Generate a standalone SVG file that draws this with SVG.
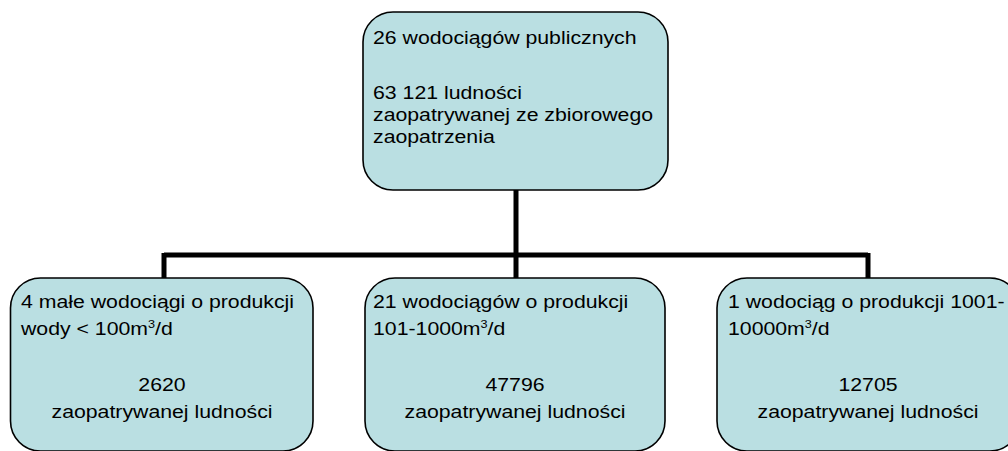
<svg xmlns="http://www.w3.org/2000/svg" width="1008" height="451" viewBox="0 0 1008 451">
<style>
.box{fill:#badfe2;stroke:#000;stroke-width:1.6}
.t{font-family:"Liberation Sans",Arial,sans-serif;font-size:18.5px;fill:#000}
.c{text-anchor:middle}
.con{stroke:#000;stroke-width:5;fill:none}
</style>
<rect width="1008" height="451" fill="#fff"/>
<g id="connectors">
<path class="con" d="M516 190 V255 M164 255 H868 M164 253 V278 M516 255 V278 M868 253 V278"/>
</g>
<g id="top">
<rect class="box" x="363" y="12" width="305" height="178" rx="30"/>
<g transform="translate(373,0) scale(1.15,1)">
<text class="t" x="0" y="44">26 wodociągów publicznych</text>
<text class="t" x="0" y="99">63 121 ludności</text>
<text class="t" x="0" y="121">zaopatrywanej ze zbiorowego</text>
<text class="t" x="0" y="143">zaopatrzenia</text>
</g>
</g>
<g id="left">
<rect class="box" x="10.5" y="278" width="302.5" height="173" rx="30"/>
<g transform="translate(21,0) scale(1.15,1)">
<text class="t" x="0" y="308">4 małe wodociągi o produkcji</text>
<text class="t" x="0" y="335">wody &lt; 100m<tspan dy="-7" font-size="11">3</tspan><tspan dy="7">/d</tspan></text>
</g>
<g transform="translate(162,0) scale(1.15,1)">
<text class="t c" x="0" y="391">2620</text>
<text class="t c" x="0" y="418">zaopatrywanej ludności</text>
</g>
</g>
<g id="middle">
<rect class="box" x="365" y="278" width="300" height="173" rx="30"/>
<g transform="translate(373,0) scale(1.15,1)">
<text class="t" x="0" y="308">21 wodociągów o produkcji</text>
<text class="t" x="0" y="335">101-1000m<tspan dy="-7" font-size="11">3</tspan><tspan dy="7">/d</tspan></text>
</g>
<g transform="translate(515,0) scale(1.15,1)">
<text class="t c" x="0" y="391">47796</text>
<text class="t c" x="0" y="418">zaopatrywanej ludności</text>
</g>
</g>
<g id="right">
<rect class="box" x="717" y="278" width="303" height="173" rx="30"/>
<g transform="translate(728,0) scale(1.15,1)">
<text class="t" x="0" y="308">1 wodociąg o produkcji 1001-</text>
<text class="t" x="0" y="335">10000m<tspan dy="-7" font-size="11">3</tspan><tspan dy="7">/d</tspan></text>
</g>
<g transform="translate(868,0) scale(1.15,1)">
<text class="t c" x="0" y="391">12705</text>
<text class="t c" x="0" y="418">zaopatrywanej ludności</text>
</g>
</g>
</svg>
